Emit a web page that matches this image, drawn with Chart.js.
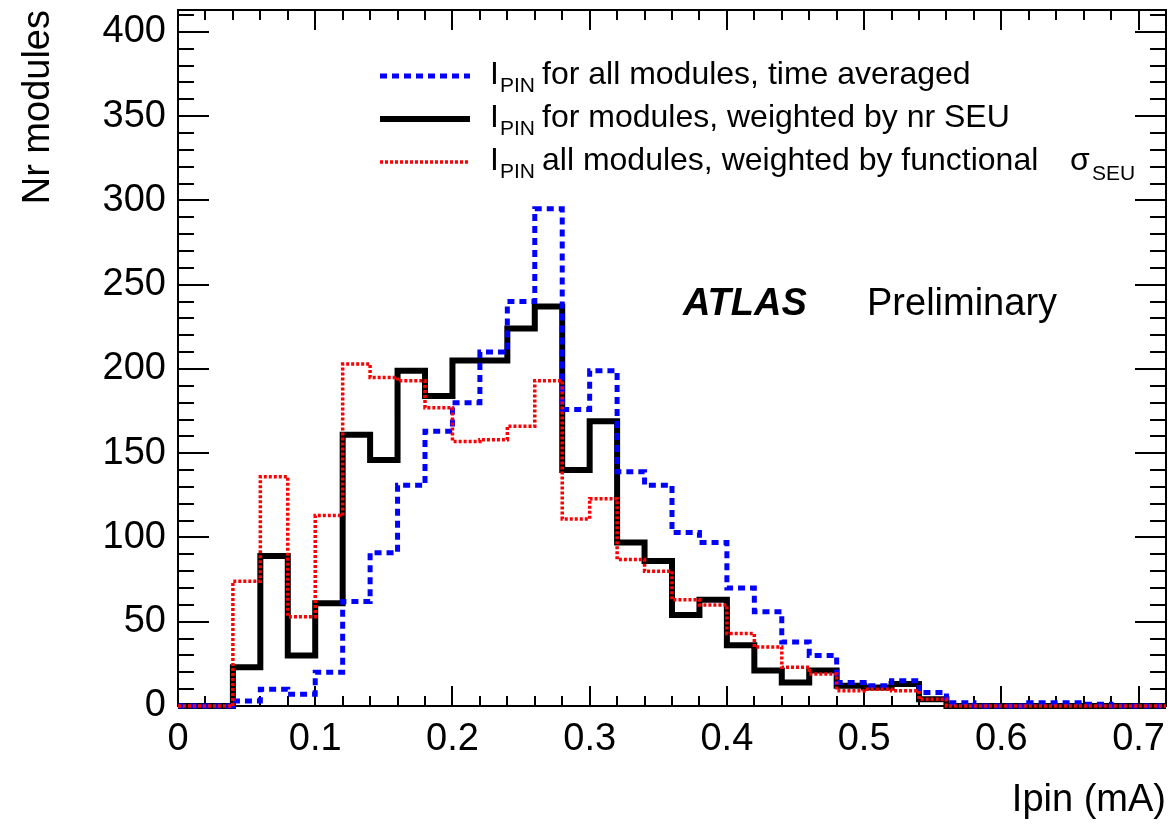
<!DOCTYPE html>
<html>
<head>
<meta charset="utf-8">
<title>Ipin distribution</title>
<script src="https://cdn.jsdelivr.net/npm/chart.js@4.4.1/dist/chart.umd.min.js"></script>
<style>
  html, body { margin: 0; padding: 0; background: #fff; }
  #chart { display: block; }
</style>
</head>
<body>
<canvas id="chart" width="1174" height="825"></canvas>
<script>
// bins of 0.02 mA from 0 to 0.72
const binWidth = 0.02;
const nBins = 36;
const binEdges = Array.from({ length: nBins + 1 }, (_, i) => +(i * binWidth).toFixed(2));

// I_PIN for all modules, time averaged
const timeAveraged = [0, 0, 3, 10, 7, 20, 62, 91, 131, 163, 180, 210,
    240, 295, 176, 199, 139, 131, 103, 97, 70, 56, 38, 30,
    14, 12, 15, 8, 2, 0, 0, 2, 2, 1, 0, 0];

// I_PIN for modules, weighted by nr SEU
const weightedSEU = [0, 0, 23, 89, 30, 61, 161, 146, 199, 184, 205, 205,
    224, 237, 140, 169, 97, 86, 54, 63, 36, 21, 14, 21,
    12, 11, 13, 4, 0, 0, 0, 0, 0, 0, 0, 0];

// I_PIN all modules, weighted by functional sigma_SEU
const weightedFunctional = [0, 0, 74, 136, 53, 113, 203, 195, 193, 177, 157, 158,
    166, 193, 111, 123, 87, 80, 63, 60, 43, 35, 23, 19,
    9, 10, 9, 4, 0, 0, 0, 0, 0, 0, 0, 0];

const xMajorTicks = [0, 0.1, 0.2, 0.3, 0.4, 0.5, 0.6, 0.7];
const yMajorTicks = [0, 50, 100, 150, 200, 250, 300, 350, 400];

const FONT = "'Liberation Sans', Arial, Helvetica, sans-serif";

// turn bin contents into step points (left edge of each bin + closing point)
function toSteps(values) {
    const pts = values.map((v, i) => ({ x: binEdges[i], y: v }));
    pts.push({ x: binEdges[nBins], y: values[nBins - 1] });
    return pts;
}

const series = [
    { label: "for all modules, time averaged", data: timeAveraged, color: "#0000ff", width: 5, dash: [7, 5], order: 1 },
    { label: "for modules, weighted by nr SEU", data: weightedSEU, color: "#000000", width: 6, dash: [], order: 2 },
    { label: "all modules, weighted by functional", data: weightedFunctional, color: "#ff0000", width: 3.5, dash: [3, 2], order: 0 }
];

// ticks inside the frame on all four sides, like ROOT
const frameTicks = {
    id: "frameTicks",
    beforeDatasetsDraw(chart) {
        const { ctx, chartArea: a, scales: { x, y } } = chart;
        ctx.save();
        ctx.strokeStyle = "#000";
        ctx.lineWidth = 2;
        ctx.beginPath();
        for (let i = 0; i <= nBins; i++) {
            const v = binEdges[i];
            const major = xMajorTicks.some(t => Math.abs(t - v) < 1e-6);
            const len = major ? 20 : 10;
            const px = Math.round(x.getPixelForValue(v));
            ctx.moveTo(px, a.bottom); ctx.lineTo(px, a.bottom - len);
            ctx.moveTo(px, a.top); ctx.lineTo(px, a.top + len);
        }
        for (let v = 0; v <= y.max; v += 10) {
            const major = yMajorTicks.includes(v);
            const len = major ? 31 : 16;
            const py = Math.round(y.getPixelForValue(v));
            ctx.moveTo(a.left, py); ctx.lineTo(a.left + len, py);
            ctx.moveTo(a.right, py); ctx.lineTo(a.right - len, py);
        }
        ctx.stroke();
        ctx.strokeRect(a.left, a.top, a.right - a.left, a.bottom - a.top);
        ctx.restore();
    }
};

// legend + ATLAS label (subscripts need manual text drawing)
const rootLegend = {
    id: "rootLegend",
    afterDraw(chart) {
        const { ctx } = chart;
        ctx.save();
        ctx.fillStyle = "#000";
        ctx.textBaseline = "alphabetic";
        series.forEach((s, i) => {
            const base = 84 + i * 43;
            const ly = base - 8;
            ctx.strokeStyle = s.color;
            ctx.lineWidth = s.width;
            ctx.setLineDash(s.dash);
            ctx.beginPath();
            ctx.moveTo(380, ly);
            ctx.lineTo(470, ly);
            ctx.stroke();
            ctx.setLineDash([]);

            ctx.font = "32px " + FONT;
            ctx.fillText("I", 490, base);
            const iw = ctx.measureText("I").width;
            ctx.font = "21px " + FONT;
            ctx.fillText("PIN", 490 + iw + 1, base + 8);
            ctx.font = "32px " + FONT;
            ctx.fillText(s.label, 542, base);
        });

        // sigma_SEU
        ctx.font = "32px " + FONT;
        ctx.fillText("\u03c3", 1070, 170);
        ctx.font = "21px " + FONT;
        ctx.fillText("SEU", 1092, 180);

        ctx.font = "italic bold 38px " + FONT;
        ctx.fillText("ATLAS", 683, 315);
        ctx.font = "38px " + FONT;
        ctx.fillText("Preliminary", 867, 315);
        ctx.restore();
    }
};

const ctx = document.getElementById("chart");

new Chart(ctx, {
    type: "line",
    data: {
        datasets: series.map(s => ({
            label: s.label,
            data: toSteps(s.data),
            borderColor: s.color,
            borderWidth: s.width,
            borderDash: s.dash,
            stepped: true,
            fill: false,
            pointRadius: 0,
            clip: false,
            order: s.order
        }))
    },
    options: {
        responsive: false,
        animation: false,
        layout: { padding: { top: 10, right: 8, left: 0, bottom: 0 } },
        plugins: {
            legend: { display: false },
            tooltip: { enabled: false }
        },
        scales: {
            x: {
                type: "linear",
                min: 0,
                max: 0.72,
                afterFit: s => { s.height = 119; s.paddingLeft = 0; s.paddingRight = 0; },
                grid: { display: false, drawTicks: false },
                border: { display: false },
                ticks: {
                    stepSize: 0.1,
                    includeBounds: false,
                    autoSkip: false,
                    maxRotation: 0,
                    padding: 11,
                    color: "#000",
                    font: { family: FONT, size: 38 },
                    callback: v => (v === 0 ? "0" : v.toFixed(1))
                },
                title: {
                    display: true,
                    text: "Ipin (mA)",
                    align: "end",
                    color: "#000",
                    font: { family: FONT, size: 38 },
                    padding: { top: 0, bottom: 2 }
                }
            },
            y: {
                type: "linear",
                min: 0,
                max: 413,
                afterFit: s => { s.width = 178; s.paddingTop = 0; s.paddingBottom = 0; },
                grid: { display: false, drawTicks: false },
                border: { display: false },
                ticks: {
                    stepSize: 50,
                    includeBounds: false,
                    autoSkip: false,
                    padding: 12,
                    color: "#000",
                    font: { family: FONT, size: 38 }
                },
                title: {
                    display: true,
                    text: "Nr modules",
                    align: "end",
                    color: "#000",
                    font: { family: FONT, size: 38 },
                    padding: { top: 16, bottom: 0 }
                }
            }
        }
    },
    plugins: [frameTicks, rootLegend]
});
</script>
</body>
</html>
